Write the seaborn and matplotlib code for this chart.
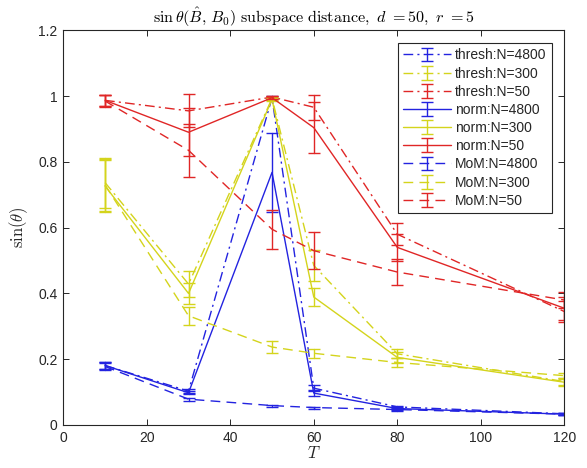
import numpy as np
import pandas as pd
import matplotlib
matplotlib.use("Agg")
import matplotlib.pyplot as plt
import seaborn as sns
from matplotlib.ticker import FuncFormatter

# ---------------- data ----------------
T = [10, 30, 50, 60, 80, 120]

thresh_4800 = [0.181, 0.103, 0.995, 0.112, 0.055, 0.034]
thresh_4800_err = [0.012, 0.005, 0.004, 0.010, 0.004, 0.003]
thresh_300 = [0.737, 0.4285, 0.993, 0.485, 0.2165, 0.132]
thresh_300_err = [0.076, 0.040, 0.005, 0.048, 0.0135, 0.010]
thresh_50 = [0.987, 0.955, 0.997, 0.966, 0.580, 0.345]
thresh_50_err = [0.017, 0.050, 0.004, 0.038, 0.033, 0.033]

norm_4800 = [0.181, 0.098, 0.768, 0.097, 0.050, 0.033]
norm_4800_err = [0.012, 0.004, 0.120, 0.008, 0.004, 0.003]
norm_300 = [0.7265, 0.400, 0.990, 0.389, 0.2055, 0.130]
norm_300_err = [0.080, 0.032, 0.005, 0.027, 0.0175, 0.010]
norm_50 = [0.987, 0.890, 0.995, 0.904, 0.540, 0.355]
norm_50_err = [0.017, 0.073, 0.004, 0.078, 0.040, 0.035]

mom_4800 = [0.178, 0.0785, 0.059, 0.053, 0.047, 0.033]
mom_4800_err = [0.010, 0.0045, 0.003, 0.003, 0.003, 0.003]
mom_300 = [0.730, 0.332, 0.237, 0.218, 0.190, 0.150]
mom_300_err = [0.078, 0.027, 0.019, 0.014, 0.014, 0.008]
mom_50 = [0.985, 0.835, 0.595, 0.530, 0.465, 0.380]
mom_50_err = [0.017, 0.080, 0.060, 0.057, 0.040, 0.023]

labels = ["thresh:N=4800", "thresh:N=300", "thresh:N=50",
          "norm:N=4800", "norm:N=300", "norm:N=50",
          "MoM:N=4800", "MoM:N=300", "MoM:N=50"]
series = [(thresh_4800, thresh_4800_err), (thresh_300, thresh_300_err), (thresh_50, thresh_50_err),
          (norm_4800, norm_4800_err), (norm_300, norm_300_err), (norm_50, norm_50_err),
          (mom_4800, mom_4800_err), (mom_300, mom_300_err), (mom_50, mom_50_err)]

BLUE, YELLOW, RED = "#2323e0", "#d4d41c", "#e02626"
colors = [BLUE, YELLOW, RED] * 3
DASHDOT = (0, (7, 3, 1.5, 3))
DASHED = (0, (7, 4.5))
styles = [DASHDOT] * 3 + ["-"] * 3 + [DASHED] * 3

# ---------------- style ----------------
sns.set_theme(style="ticks")
plt.rcParams["font.family"] = ["Liberation Sans", "DejaVu Sans"]
plt.rcParams["mathtext.fontset"] = "cm"
AX_COLOR = "#262626"

fig = plt.figure(figsize=(5.87, 4.68), dpi=100)
ax = fig.add_axes([0.1078, 0.0919, 0.9613 - 0.1078, 0.9353 - 0.0919])

handles = []
for lab, (vals, errs), col, ls in zip(labels, series, colors, styles):
    vals = np.asarray(vals)
    errs = np.asarray(errs)
    df = pd.DataFrame({
        "T": list(T) * 2,
        "v": list(vals - errs) + list(vals + errs),
    })
    n_before = len(ax.lines)
    sns.lineplot(data=df, x="T", y="v", ax=ax, color=col, linestyle=ls,
                 linewidth=1.0, estimator="mean",
                 errorbar=lambda s: (s.min(), s.max()),
                 err_style="bars", err_kws={"capsize": 4.5, "elinewidth": 1.0,
                                            "capthick": 1.0},
                 legend=False)
    line = ax.lines[n_before]
    cont = ax.containers[-1]
    handles.append((line, cont))

ax.set_xlim(0, 120)
ax.set_ylim(0, 1.2)
ax.set_xticks([0, 20, 40, 60, 80, 100, 120])
ax.set_yticks([0, 0.2, 0.4, 0.6, 0.8, 1.0, 1.2])
ax.yaxis.set_major_formatter(FuncFormatter(lambda v, p: f"{v:g}"))
ax.tick_params(direction="in", top=True, right=True, length=4, width=0.7,
               colors=AX_COLOR, labelsize=10, pad=4)
for sp in ax.spines.values():
    sp.set_visible(True)
    sp.set_color(AX_COLOR)
    sp.set_linewidth(0.8)

ax.set_xlabel(r"$T$", fontsize=12, color=AX_COLOR, labelpad=0)
ax.set_ylabel(r"$\sin(\theta)$", fontsize=12, color=AX_COLOR, labelpad=6)
ax.set_title(r"$\sin\theta(\hat{B},\,B_0)\ \mathrm{subspace\ distance},\ d\ \mathrm{=}50,\ r\ \mathrm{=}5$",
             fontsize=11.6, color="black", pad=5)

leg = ax.legend(handles, labels, loc="upper right", fontsize=10,
                frameon=True, fancybox=False, framealpha=1.0,
                edgecolor=AX_COLOR, handlelength=3.4, labelspacing=0.3,
                borderaxespad=0.9, borderpad=0.4, handletextpad=0.3)
leg.get_frame().set_linewidth(0.8)

fig.savefig("out.png", dpi=100)
